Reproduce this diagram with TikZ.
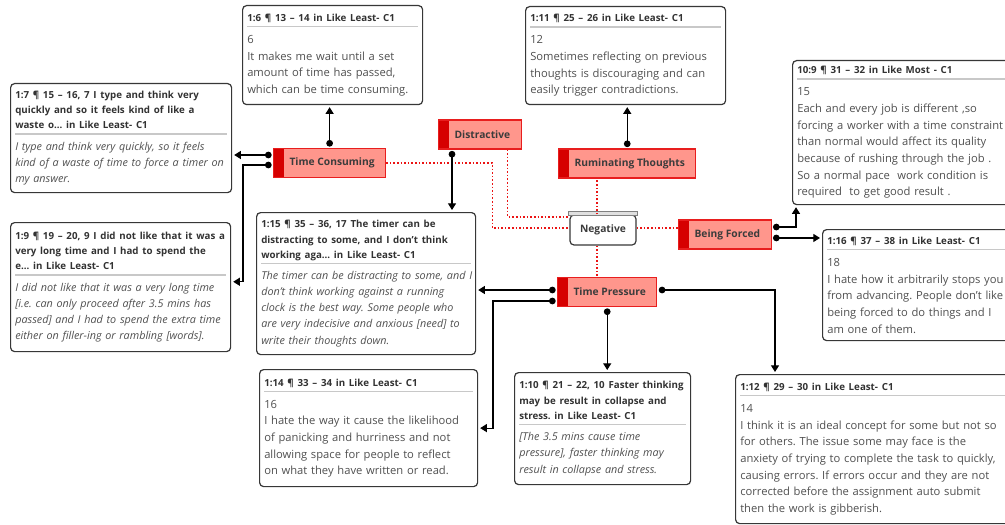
\documentclass[tikz,border=0pt]{standalone}
\usepackage{fontspec}
\setmainfont{Open Sans}
\usetikzlibrary{arrows.meta, positioning}

\definecolor{codefill}{RGB}{255,150,140}
\definecolor{codeborder}{RGB}{232,30,30}
\definecolor{codestrip}{RGB}{214,0,0}
\definecolor{codetext}{RGB}{60,60,60}
\definecolor{linkred}{RGB}{235,20,20}
\definecolor{boxgray}{RGB}{55,55,55}
\definecolor{hdgray}{RGB}{50,50,50}
\definecolor{bodygray}{RGB}{80,80,80}
\definecolor{sepgray}{RGB}{200,200,200}

\frenchspacing
\newcommand{\bodyfont}{\fontsize{8.4}{12.5}\selectfont}
\newcommand{\hd}[1]{\rightskip=0pt plus 1fil minus 1000pt\relax\hyphenpenalty=10000\relax
  {\color{hdgray}\bfseries\fontsize{7.3}{11.6}\selectfont #1\par}}
\newcommand{\sepline}{\par\vspace{-8pt}{\color{sepgray}\rule{\linewidth}{1.2pt}}\par\vspace{-0.5pt}}
\newcommand{\quo}{\itshape\fontsize{8.1}{12}\selectfont}

\begin{document}
\begin{tikzpicture}[x=0.75pt, y=-0.75pt,
  quote/.style={draw=boxgray, line width=0.9pt, rounded corners=3pt, fill=white,
    anchor=north west, align=left, inner xsep=3.5pt, inner ysep=3pt,
    font=\bodyfont, text=bodygray},
  code/.style={draw=codeborder, fill=codefill, line width=0.8pt, anchor=west,
    minimum height=21.75pt, inner xsep=0pt, font=\bfseries\fontsize{7.7}{10}\selectfont,
    text=codetext,
    path picture={\fill[codestrip] (path picture bounding box.south west)
      rectangle ([xshift=7.5pt]path picture bounding box.north west);},
    execute at begin node={\hspace*{12pt}}, execute at end node={\hspace*{8.25pt}}},
  link/.style={draw=linkred, line width=0.8pt, dash pattern=on 1.2pt off 1.5pt},
  conn/.style={draw=black, line width=0.9pt,
    {Circle[length=5pt]}-{Triangle[length=5pt,width=6pt]},
    shorten <=1pt, shorten >=1.5pt}]
\useasboundingbox (0,0) rectangle (1005,524);
\clip (0,0) rectangle (1005,524);

% codes
\node[code] (tc) at (273,163) {Time Consuming};
\node[code] (di) at (438,134.5) {Distractive};
\node[code] (rt) at (558,163.5) {Ruminating Thoughts};
\node[code] (bf) at (678,234.5) {Being Forced};
\node[code] (tp) at (557,292) {Time Pressure};
\node[draw=boxgray, line width=0.9pt, rounded corners=3pt, fill=white, minimum width=49.5pt,
  minimum height=22.5pt, text=codetext, font=\bfseries\fontsize{7.7}{10}\selectfont] (ng) at (603,230) {Negative};
\draw[draw=gray, fill=black!12, line width=0.6pt] ([xshift=-0.75pt,yshift=-0.75pt]ng.north west)
  rectangle ([xshift=0.75pt,yshift=2.25pt]ng.north east);

% quotations
\node[quote, text width=128pt, minimum height=74.25pt] (q6) at (242,5)
  {\hd{1:6 ¶ 13 – 14 in Like Least- C1}\sepline
   6\\It makes me wait until a set\\amount of time has passed,\\which can be time consuming.};
\node[quote, text width=158.75pt, minimum height=81.75pt] (q7) at (10,83)
  {\hd{1:7 ¶ 15 – 16, 7 I type and think very\\quickly and so it feels kind of like a\\waste o... in Like Least- C1}\sepline
   \quo I type and think very quickly, so it feels\\kind of a waste of time to force a timer on\\my answer.};
\node[quote, text width=143pt, minimum height=73.5pt] (q11) at (525,6)
  {\hd{1:11 ¶ 25 – 26 in Like Least- C1}\sepline
   12\\Sometimes reflecting on previous\\thoughts is discouraging and can\\easily trigger contradictions.};
\node[quote, text width=170pt, minimum height=108pt] (qd) at (792,60)
  {\hd{10:9 ¶ 31 – 32 in Like Most - C1}\sepline
   15\\Each and every job is different ,so\\forcing a worker with a time constraint\\than normal would affect its quality\\because of rushing through the job .\\So a normal pace\ \ work condition is\\required\ \ to get good result .};
\node[quote, text width=150pt, minimum height=83.25pt] (qe) at (822,229)
  {\hd{1:16 ¶ 37 – 38 in Like Least- C1}\sepline
   18\\I hate how it arbitrarily stops you\\from advancing. People don't like\\being forced to do things and I\\am one of them.};
\node[quote, text width=158pt, minimum height=96.75pt] (q9) at (10,222)
  {\hd{1:9 ¶ 19 – 20, 9 I did not like that it was a\\very long time and I had to spend the\\e... in Like Least- C1}\sepline
   \quo I did not like that it was a very long time\\{}[i.e. can only proceed after 3.5 mins has\\passed] and I had to spend the extra time\\either on filler-ing or rambling [words].};
\node[quote, text width=157.25pt, minimum height=106.5pt] (q15) at (256,212)
  {\hd{1:15 ¶ 35 – 36, 17 The timer can be\\distracting to some, and I don't think\\working aga... in Like Least- C1}\sepline
   \quo The timer can be distracting to some, and I\\don't think working against a running\\clock is the best way. Some people who\\are very indecisive and anxious [need] to\\write their thoughts down.};
\node[quote, text width=156.5pt, minimum height=87.75pt] (q14) at (259,369)
  {\hd{1:14 ¶ 33 – 34 in Like Least- C1}\sepline
   16\\I hate the way it cause the likelihood\\of panicking and hurriness and not\\allowing space for people to reflect\\on what they have written or read.};
\node[quote, text width=125pt, minimum height=84pt] (q10) at (514,372)
  {\hd{1:10 ¶ 21 – 22, 10 Faster thinking\\may be result in collapse and\\stress. in Like Least- C1}\sepline
   \quo [The 3.5 mins cause time\\pressure], faster thinking may\\result in collapse and stress.};
\node[quote, text width=215pt, minimum height=111.75pt] (q12) at (735,374)
  {\hd{1:12 ¶ 29 – 30 in Like Least- C1}\sepline
   14\\I think it is an ideal concept for some but not so\\for others. The issue some may face is the\\anxiety of trying to complete the task to quickly,\\causing errors. If errors occur and they are not\\corrected before the assignment auto submit\\then the work is gibberish.};

% links to Negative
\draw[link] (tc.east) -- ++(106,0) |- ([yshift=1.5pt]ng.west);
\draw[link] ([xshift=-10.5pt]di.south east) |- ([yshift=9.75pt]ng.west);
\draw[link] ([xshift=-4.5pt]ng.north) -- ([xshift=-4.5pt]ng.north |- rt.south);
\draw[link] ([xshift=-4.5pt]ng.south) -- ([xshift=-4.5pt]ng.south |- tp.north);
\draw[link] ([yshift=1.5pt]ng.east) -- ([yshift=1.5pt]ng.east -| bf.west);

% code to quotation
\draw[conn] (tc.north) -- (tc.north |- q6.south);
\draw[conn] ([yshift=6pt]tc.west) -- ([yshift=6pt]tc.west -| q7.east);
\draw[conn] ([yshift=-1.5pt]tc.west) -- ++(-30,0) |- ([yshift=4pt]q9.east);
\draw[conn] ([xshift=10.5pt]di.south west) -- ([xshift=10.5pt]di.south west |- q15.north);
\draw[conn] (rt.north) -- (rt.north |- q11.south);
\draw[conn] ([yshift=5.6pt]bf.east) -| ([xshift=3pt]qd.south west);
\draw[conn] ([yshift=-2.6pt]bf.east) -- ([yshift=-2.6pt]bf.east -| qe.west);
\draw[conn] ([yshift=1.5pt]tp.west) -- ([yshift=1.5pt]tp.west -| q15.east);
\draw[conn] ([yshift=-6.75pt]tp.west) -- ++(-64,0) |- (q14.east);
\draw[conn] (tp.south) -- (tp.south |- q10.north);
\draw[conn] ([yshift=1.5pt]tp.east) -| ([xshift=30pt]q12.north west);
\end{tikzpicture}
\end{document}
